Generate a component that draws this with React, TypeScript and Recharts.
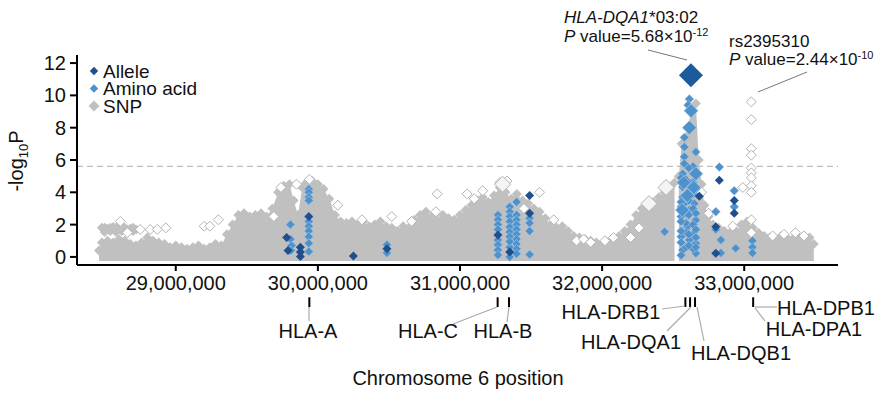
import React from "react";
import { ComposedChart, Area, Scatter, XAxis, YAxis, ReferenceLine } from "recharts";

// ---------- data (positions in Mb, values in -log10 P) ----------
const envPos = [28.46, 28.48, 28.52, 28.56, 28.6, 28.64, 28.68, 28.72, 28.76, 28.8, 28.84, 28.88, 28.92, 28.96, 29.0, 29.04, 29.08, 29.12, 29.16, 29.2, 29.24, 29.28, 29.32, 29.36, 29.4, 29.44, 29.48, 29.52, 29.56, 29.6, 29.64, 29.68, 29.72, 29.76, 29.8, 29.83, 29.86, 29.89, 29.92, 29.96, 30.0, 30.04, 30.08, 30.12, 30.16, 30.2, 30.24, 30.28, 30.32, 30.36, 30.4, 30.44, 30.48, 30.52, 30.56, 30.6, 30.64, 30.68, 30.72, 30.76, 30.8, 30.84, 30.88, 30.92, 30.96, 31.0, 31.04, 31.08, 31.12, 31.16, 31.2, 31.24, 31.28, 31.32, 31.36, 31.4, 31.44, 31.48, 31.52, 31.56, 31.6, 31.64, 31.68, 31.72, 31.76, 31.8, 31.84, 31.88, 31.92, 31.96, 32.0, 32.04, 32.08, 32.12, 32.16, 32.2, 32.24, 32.28, 32.32, 32.36, 32.4, 32.44, 32.48, 32.51, 32.525, 32.54, 32.56, 32.6, 32.63, 32.66, 32.68, 32.7, 32.72, 32.75, 32.78, 32.82, 32.86, 32.9, 32.94, 32.98, 33.02, 33.06, 33.1, 33.14, 33.18, 33.22, 33.26, 33.3, 33.34, 33.38, 33.42, 33.46, 33.49];
const envTop = [0.4, 0.9, 1.0, 0.9, 1.1, 1.0, 0.8, 0.7, 0.9, 1.2, 1.0, 0.9, 0.8, 0.6, 0.7, 0.6, 0.5, 0.6, 0.7, 0.5, 0.6, 0.8, 0.7, 1.4, 2.0, 2.6, 2.7, 2.5, 2.6, 2.7, 2.5, 3.0, 4.0, 4.4, 4.5, 3.5, 2.6, 4.3, 4.6, 4.7, 4.5, 4.2, 3.6, 2.6, 2.2, 2.1, 2.2, 2.0, 2.2, 1.9, 2.0, 2.2, 1.9, 1.8, 1.6, 1.9, 1.8, 2.3, 2.6, 2.8, 2.5, 2.3, 2.6, 2.4, 2.3, 2.6, 2.9, 3.2, 3.5, 3.7, 3.4, 3.8, 4.3, 4.0, 3.6, 3.9, 3.5, 3.3, 3.0, 2.8, 2.4, 2.0, 1.8, 1.9, 1.6, 1.3, 1.2, 1.1, 1.0, 0.9, 0.8, 0.9, 1.1, 1.3, 1.6, 2.0, 2.6, 3.0, 3.2, 3.4, 3.7, 4.0, 4.3, 4.6, null, 5.0, 7.0, 8.0, 9.0, 9.5, 6.0, 4.5, 3.2, 2.5, 2.0, 1.8, 1.6, 1.5, 1.6, 2.0, 2.2, 1.8, 1.5, 1.3, 1.2, 1.1, 1.3, 1.2, 1.1, 1.2, 1.3, 1.2, 0.8];

const bandPos = [28.48, 28.5, 28.52, 28.54, 28.56, 28.58, 28.6, 28.62, 28.64, 28.66, 28.68, 28.7, 28.72, 28.5, 28.54, 28.58, 28.62, 28.66, 28.7];
const bandVal = [1.8, 1.8, 1.75, 1.8, 1.85, 1.8, 1.75, 1.8, 1.8, 1.7, 1.75, 1.8, 1.7, 1.55, 1.6, 1.55, 1.6, 1.55, 1.6];

const hollowPos = [28.61, 28.66, 28.75, 28.82, 28.87, 28.93, 29.2, 29.24, 29.3, 29.69, 29.74, 29.85, 29.94, 30.14, 30.31, 30.52, 30.66, 30.83, 30.84, 31.05, 31.1, 31.16, 31.28, 31.33, 31.45, 31.56, 31.66, 31.82, 31.87, 31.92, 32.02, 32.08, 32.2, 32.26, 32.7, 32.75, 32.92, 32.99, 33.05, 33.05, 33.05, 33.05, 33.05, 33.05, 33.05, 33.05, 33.05, 33.05, 33.05, 33.2, 33.28, 33.36, 33.42];
const hollowVal = [2.2, 1.5, 1.7, 1.7, 1.7, 1.8, 1.9, 1.9, 2.3, 2.5, 4.3, 4.5, 4.8, 3.2, 2.3, 2.5, 2.2, 2.8, 3.9, 3.9, 3.6, 4.1, 4.6, 4.7, 3.0, 4.0, 2.3, 1.0, 1.1, 0.9, 1.0, 1.2, 1.2, 1.8, 4.0, 2.7, 1.9, 4.3, 9.6, 8.5, 6.7, 6.3, 5.5, 5.2, 4.9, 4.4, 4.0, 2.3, 1.5, 1.3, 1.4, 1.5, 1.3];
const hollowBigPos = [32.45, 32.33, 31.3];
const hollowBigVal = [4.3, 3.3, 4.5];

const aminoPos = [29.807, 29.807, 29.815, 29.81, 29.936, 29.936, 29.936, 29.936, 29.936, 29.936, 29.936, 29.936, 29.936, 29.936, 30.486, 30.486,
  31.267, 31.267, 31.267, 31.267, 31.267, 31.267, 31.267, 31.267,
  31.35, 31.35, 31.35, 31.35, 31.35, 31.35, 31.35, 31.35, 31.35, 31.35,
  31.398, 31.398, 31.398, 31.398, 31.398, 31.398, 31.398, 31.398, 31.398, 31.398,
  31.49, 31.49, 31.49, 31.49,
  32.614, 32.605, 32.579, 32.66, 32.579, 32.579, 32.579, 32.567, 32.567, 32.614, 32.567, 32.556, 32.614, 32.649, 32.556, 32.6, 32.66, 32.556, 32.614, 32.66, 32.567, 32.66,
  32.59, 32.59, 32.59, 32.59, 32.59, 32.59, 32.59, 32.64, 32.64, 32.64, 32.64, 32.64, 32.64, 32.64, 32.556, 32.556, 32.556, 32.556, 32.556, 32.556,
  32.61, 32.61, 32.61, 32.61, 32.61, 32.61, 32.66, 32.66, 32.66, 32.66, 32.66,
  32.825, 32.93, 32.93, 32.8, 32.8, 32.836, 32.836, 32.94, 33.058, 33.058, 33.058, 32.44];
const aminoVal = [2.0, 1.1, 0.7, 0.4, 4.2, 4.0, 3.7, 3.5, 2.2, 1.9, 1.6, 1.25, 0.85, 0.33, 0.75, 0.25,
  2.6, 2.3, 2.0, 1.7, 1.05, 0.75, 0.43, 0.12,
  3.1, 2.8, 2.5, 2.2, 1.85, 1.55, 1.25, 0.6, 0.0, 0.95,
  3.4, 2.6, 2.3, 2.0, 1.7, 1.4, 1.1, 0.8, 0.5, 0.2,
  2.4, 2.1, 1.6, 0.15,
  9.77, 9.4, 7.4, 6.5, 6.8, 6.2, 5.77, 5.15, 4.33, 4.0, 3.7, 3.1, 2.9, 3.3, 2.5, 1.87, 2.28, 1.25, 1.05, 0.84, 0.43, 0.23,
  4.8, 4.5, 3.4, 2.7, 2.1, 1.5, 0.6, 5.6, 4.6, 3.9, 3.0, 2.0, 1.4, 0.5, 4.9, 3.4, 2.2, 1.6, 0.9, 0.1,
  5.5, 4.6, 3.5, 2.6, 1.4, 0.7, 4.2, 2.7, 1.7, 1.2, 0.6,
  5.56, 4.1, 3.1, 2.8, 1.7, 1.05, 0.25, 0.53, 1.0, 0.6, 0.25, 1.56];
const aminoBigPos = [32.626, 32.614, 32.66, 32.575, 32.6, 32.565, 32.645];
const aminoBigVal = [9.05, 8.0, 5.15, 4.6, 3.8, 2.9, 4.3];

const allelePos = [29.78, 29.79, 29.877, 29.877, 29.877, 29.936, 30.25, 30.486, 31.267, 31.35, 31.49, 31.49, 32.684, 32.825, 32.93, 32.93, 32.8, 32.8];
const alleleVal = [1.2, 0.4, 0.6, 0.3, 0.02, 2.5, 0.05, 0.5, 1.35, 0.3, 3.8, 2.7, 3.75, 4.74, 3.5, 2.7, 1.87, 0.22];
const leadPos = [32.625];
const leadVal = [11.25];

const genePos = [29.94, 31.265, 31.345, 32.586, 32.619, 32.654, 33.063];
const xTicks = [29000000, 30000000, 31000000, 32000000, 33000000];
const yTicks = [0, 2, 4, 6, 8, 10, 12];
const threshold = 5.6;
const legendLabels = ["Allele", "Amino acid", "SNP"];

// ---------- helpers ----------
const MB = 1000000;
const pts = (p: number[], v: (number | null)[]) =>
  p.map((x, i) => ({ pos: x * MB, val: v[i] })).filter((d) => d.val !== null);
const areaData = envPos.map((x, i) => ({ pos: x * MB, hi: envTop[i] }));

const C_GRAY = "#c0c0c0";
const C_ALLELE = "#1f4f8c";
const C_AMINO = "#4f91cb";
const C_LEAD = "#1c5a9e";
const FONT = '"Liberation Sans", Arial, sans-serif';

const diamond = (fill: string, stroke: string, half: number, sw: number) => (props: any) => {
  const { cx, cy } = props;
  if (cx == null || cy == null) return <g />;
  return (
    <polygon
      points={`${cx},${cy - half} ${cx + half},${cy} ${cx},${cy + half} ${cx - half},${cy}`}
      fill={fill}
      stroke={stroke}
      strokeWidth={sw}
    />
  );
};

const fmt = (v: number) => String(v).replace(/\B(?=(\d{3})+(?!\d))/g, ",");

const LegendBox = () => {
  const cols = [C_ALLELE, C_AMINO, C_GRAY];
  const halves = [4.2, 4.2, 5.5];
  return (
    <svg
      width={140}
      height={62}
      style={{ position: "absolute", left: 84, top: 56, fontFamily: FONT }}
    >
      {legendLabels.map((l, i) => (
        <g key={l} transform={`translate(0, ${i * 17.5})`}>
          <polygon
            points={`10,${15 - halves[i]} ${10 + halves[i]},15 10,${15 + halves[i]} ${10 - halves[i]},15`}
            fill={cols[i]}
          />
          <text x={19} y={21.5} fontSize={19} fill="#111">{l}</text>
        </g>
      ))}
    </svg>
  );
};

export default function App() {
  return (
    <div style={{ position: "relative", width: 891, height: 394, background: "#fff" }}>
      <style>{`body{margin:0;background:#fff}`}</style>
      <ComposedChart
        width={891}
        height={394}
        data={areaData}
        margin={{ top: 55, right: 53, bottom: 99, left: 0 }}
        style={{ fontFamily: FONT }}
      >
        <XAxis
          type="number"
          dataKey="pos"
          domain={[28305000, 33660000]}
          ticks={xTicks}
          tickFormatter={fmt}
          allowDataOverflow
          height={30}
          tick={{ fontSize: 20, fill: "#111" }}
          tickSize={6}
          tickMargin={5}
          axisLine={{ stroke: "#000", strokeWidth: 2 }}
          tickLine={{ stroke: "#000", strokeWidth: 2 }}
        />
        <YAxis
          type="number"
          domain={[-0.5, 12.5]}
          ticks={yTicks}
          allowDataOverflow
          width={77}
          tick={{ fontSize: 20, fill: "#111" }}
          tickSize={7}
          tickMargin={4}
          axisLine={{ stroke: "#000", strokeWidth: 2 }}
          tickLine={{ stroke: "#000", strokeWidth: 2 }}
        />
        <ReferenceLine y={threshold} stroke="#bdbdbd" strokeDasharray="6 4" strokeWidth={1.3} />
        <Area
          type="linear"
          dataKey="hi"
          baseValue={-0.25}
          fill={C_GRAY}
          fillOpacity={1}
          stroke="none"
          dot={false}
          activeDot={false}
          connectNulls={false}
          isAnimationActive={false}
        />
        <Scatter data={pts(envPos, envTop)} dataKey="val" shape={diamond(C_GRAY, "none", 5, 0)} isAnimationActive={false} />
        <Scatter data={pts(bandPos, bandVal)} dataKey="val" shape={diamond(C_GRAY, "none", 5, 0)} isAnimationActive={false} />
        <Scatter data={pts(hollowPos, hollowVal)} dataKey="val" shape={diamond("#fff", "#b3b3b3", 5, 1)} isAnimationActive={false} />
        <Scatter data={pts(hollowBigPos, hollowBigVal)} dataKey="val" shape={diamond("#f4f4f4", "#b3b3b3", 8, 1)} isAnimationActive={false} />
        <Scatter data={pts(aminoPos, aminoVal)} dataKey="val" shape={diamond(C_AMINO, "#a9c9e8", 4.5, 0.6)} isAnimationActive={false} />
        <Scatter data={pts(aminoBigPos, aminoBigVal)} dataKey="val" shape={diamond(C_AMINO, "#a9c9e8", 7, 0.8)} isAnimationActive={false} />
        <Scatter data={pts(allelePos, alleleVal)} dataKey="val" shape={diamond(C_ALLELE, "none", 4.5, 0)} isAnimationActive={false} />
        <Scatter data={pts(leadPos, leadVal)} dataKey="val" shape={diamond(C_LEAD, "none", 12, 0)} isAnimationActive={false} />
        {genePos.map((g) => (
          <ReferenceLine
            key={g}
            segment={[{ x: g * MB, y: -2.5 }, { x: g * MB, y: -3.1 }]}
            ifOverflow="visible"
            stroke="#000"
            strokeWidth={2}
          />
        ))}
      </ComposedChart>
      <LegendBox />
      <svg
        width={891}
        height={394}
        style={{ position: "absolute", left: 0, top: 0, pointerEvents: "none", fontFamily: FONT }}
      >
        <text x={23} y={161} fontSize={20} fill="#111" textAnchor="middle" transform="rotate(-90 23 161)">
          -log<tspan fontSize={13} dy={5}>10</tspan><tspan dy={-5}>P</tspan>
        </text>
        <g fontSize={17} fill="#111">
          <text x={564} y={23}>
            <tspan fontStyle="italic">HLA-DQA1</tspan>*03:02
          </text>
          <text x={564} y={42}>
            <tspan fontStyle="italic">P</tspan> value=5.68×10<tspan fontSize={11} dy={-6}>-12</tspan>
          </text>
          <text x={729} y={47}>rs2395310</text>
          <text x={729} y={65}>
            <tspan fontStyle="italic">P</tspan> value=2.44×10<tspan fontSize={11} dy={-6}>-10</tspan>
          </text>
        </g>
        <line x1={648} y1={50} x2={687} y2={60} stroke="#777" strokeWidth={1} />
        <line x1={807} y1={72} x2={758} y2={92} stroke="#777" strokeWidth={1} />
        <g stroke="#aaa" strokeWidth={1.2}>
          <line x1={309} y1={307} x2={309} y2={321} />
          <line x1={497} y1={307} x2={453} y2={324} />
          <line x1={509} y1={307} x2={507} y2={322} />
          <line x1={662} y1={309} x2={685} y2={306} />
          <line x1={667} y1={331} x2={691} y2={307} />
          <line x1={697} y1={307} x2={704} y2={341} />
          <line x1={755} y1={307} x2={777} y2={307} />
          <line x1={755} y1={308} x2={765} y2={321} />
        </g>
        <g fontSize={20} fill="#111" textAnchor="middle">
          <text x={308} y={338}>HLA-A</text>
          <text x={428} y={338}>HLA-C</text>
          <text x={503} y={338}>HLA-B</text>
          <text x={611} y={319}>HLA-DRB1</text>
          <text x={631} y={349}>HLA-DQA1</text>
          <text x={741} y={360}>HLA-DQB1</text>
          <text x={826} y={315}>HLA-DPB1</text>
          <text x={814} y={336}>HLA-DPA1</text>
          <text x={458} y={385}>Chromosome 6 position</text>
        </g>
      </svg>
    </div>
  );
}
